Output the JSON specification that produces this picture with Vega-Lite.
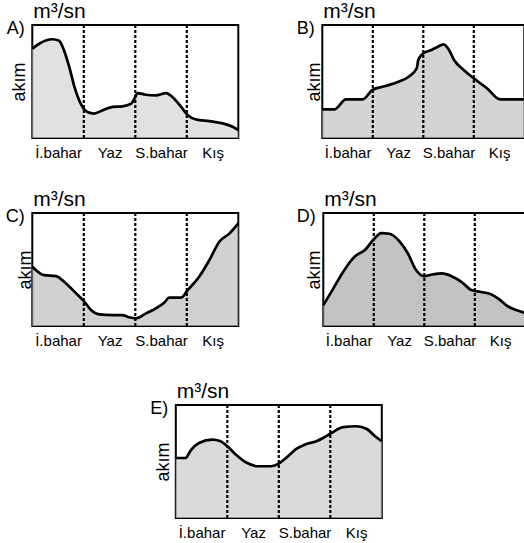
{
  "$schema": "https://vega.github.io/schema/vega-lite/v6.json",
  "background": "white",
  "padding": {"left": 4, "top": 0, "right": 0, "bottom": 2},
  "spacing": 31,
  "center": true,
  "datasets": {
    "curves": [
      {"panel": "A", "t": 0, "flow": 79}, {"panel": "A", "t": 0.14, "flow": 83.6}, {"panel": "A", "t": 0.39, "flow": 87.4}, {"panel": "A", "t": 0.52, "flow": 86}, {"panel": "A", "t": 0.62, "flow": 77}, {"panel": "A", "t": 0.72, "flow": 62.5}, {"panel": "A", "t": 0.82, "flow": 45}, {"panel": "A", "t": 0.94, "flow": 30.4}, {"panel": "A", "t": 1.07, "flow": 23}, {"panel": "A", "t": 1.2, "flow": 21.6}, {"panel": "A", "t": 1.37, "flow": 24.6}, {"panel": "A", "t": 1.56, "flow": 27.5}, {"panel": "A", "t": 1.75, "flow": 28}, {"panel": "A", "t": 1.92, "flow": 30.4}, {"panel": "A", "t": 2.0, "flow": 36.3}, {"panel": "A", "t": 2.04, "flow": 39.8}, {"panel": "A", "t": 2.2, "flow": 38.3}, {"panel": "A", "t": 2.4, "flow": 37.7}, {"panel": "A", "t": 2.6, "flow": 39.8}, {"panel": "A", "t": 2.72, "flow": 36.3}, {"panel": "A", "t": 2.89, "flow": 27.5}, {"panel": "A", "t": 3.02, "flow": 20.2}, {"panel": "A", "t": 3.18, "flow": 16.4}, {"panel": "A", "t": 3.44, "flow": 14.9}, {"panel": "A", "t": 3.7, "flow": 12.9}, {"panel": "A", "t": 3.89, "flow": 9.9}, {"panel": "A", "t": 4, "flow": 7},
      {"panel": "B", "t": 0, "flow": 25.4}, {"panel": "B", "t": 0.24, "flow": 25.4}, {"panel": "B", "t": 0.47, "flow": 34.2}, {"panel": "B", "t": 0.8, "flow": 34.2}, {"panel": "B", "t": 0.99, "flow": 42.5}, {"panel": "B", "t": 1.25, "flow": 46}, {"panel": "B", "t": 1.51, "flow": 49.8}, {"panel": "B", "t": 1.71, "flow": 54.2}, {"panel": "B", "t": 1.87, "flow": 61.7}, {"panel": "B", "t": 1.9, "flow": 69}, {"panel": "B", "t": 2.0, "flow": 75}, {"panel": "B", "t": 2.16, "flow": 77.9}, {"panel": "B", "t": 2.29, "flow": 80.8}, {"panel": "B", "t": 2.4, "flow": 82.9}, {"panel": "B", "t": 2.51, "flow": 77.9}, {"panel": "B", "t": 2.61, "flow": 69}, {"panel": "B", "t": 2.8, "flow": 60.2}, {"panel": "B", "t": 3.0, "flow": 52.8}, {"panel": "B", "t": 3.26, "flow": 44}, {"panel": "B", "t": 3.52, "flow": 34.2}, {"panel": "B", "t": 3.94, "flow": 34.2}, {"panel": "B", "t": 4, "flow": 34.2},
      {"panel": "C", "t": 0, "flow": 52.5}, {"panel": "C", "t": 0.23, "flow": 45}, {"panel": "C", "t": 0.46, "flow": 44.2}, {"panel": "C", "t": 0.65, "flow": 37.8}, {"panel": "C", "t": 0.85, "flow": 28.9}, {"panel": "C", "t": 1.01, "flow": 21.5}, {"panel": "C", "t": 1.14, "flow": 14.2}, {"panel": "C", "t": 1.3, "flow": 10.3}, {"panel": "C", "t": 1.56, "flow": 9.7}, {"panel": "C", "t": 1.75, "flow": 9.7}, {"panel": "C", "t": 1.88, "flow": 7.7}, {"panel": "C", "t": 2.01, "flow": 6.8}, {"panel": "C", "t": 2.21, "flow": 11.2}, {"panel": "C", "t": 2.4, "flow": 15.6}, {"panel": "C", "t": 2.56, "flow": 20.6}, {"panel": "C", "t": 2.66, "flow": 25.1}, {"panel": "C", "t": 2.89, "flow": 25.1}, {"panel": "C", "t": 3.02, "flow": 31.9}, {"panel": "C", "t": 3.24, "flow": 43.6}, {"panel": "C", "t": 3.44, "flow": 58.4}, {"panel": "C", "t": 3.63, "flow": 74.6}, {"panel": "C", "t": 3.83, "flow": 82}, {"panel": "C", "t": 4, "flow": 90.9},
      {"panel": "D", "t": 0, "flow": 18.4}, {"panel": "D", "t": 0.15, "flow": 29.5}, {"panel": "D", "t": 0.34, "flow": 44.1}, {"panel": "D", "t": 0.54, "flow": 57.3}, {"panel": "D", "t": 0.63, "flow": 61.7}, {"panel": "D", "t": 0.83, "flow": 67.5}, {"panel": "D", "t": 0.99, "flow": 76.3}, {"panel": "D", "t": 1.15, "flow": 82.2}, {"panel": "D", "t": 1.31, "flow": 81.6}, {"panel": "D", "t": 1.51, "flow": 74.8}, {"panel": "D", "t": 1.67, "flow": 64.6}, {"panel": "D", "t": 1.83, "flow": 50}, {"panel": "D", "t": 1.99, "flow": 44.1}, {"panel": "D", "t": 2.16, "flow": 45.6}, {"panel": "D", "t": 2.35, "flow": 46.5}, {"panel": "D", "t": 2.54, "flow": 44.1}, {"panel": "D", "t": 2.74, "flow": 38.9}, {"panel": "D", "t": 2.93, "flow": 31.8}, {"panel": "D", "t": 3.12, "flow": 30.1}, {"panel": "D", "t": 3.32, "flow": 28.1}, {"panel": "D", "t": 3.48, "flow": 23.7}, {"panel": "D", "t": 3.64, "flow": 17.8}, {"panel": "D", "t": 3.83, "flow": 14}, {"panel": "D", "t": 3.93, "flow": 12.5}, {"panel": "D", "t": 4, "flow": 11.5},
      {"panel": "E", "t": 0, "flow": 53.1}, {"panel": "E", "t": 0.19, "flow": 53.1}, {"panel": "E", "t": 0.29, "flow": 59.9}, {"panel": "E", "t": 0.45, "flow": 66.4}, {"panel": "E", "t": 0.71, "flow": 69.3}, {"panel": "E", "t": 0.87, "flow": 67.9}, {"panel": "E", "t": 1.0, "flow": 63.5}, {"panel": "E", "t": 1.17, "flow": 56}, {"panel": "E", "t": 1.36, "flow": 49.3}, {"panel": "E", "t": 1.59, "flow": 45.8}, {"panel": "E", "t": 1.85, "flow": 45.8}, {"panel": "E", "t": 2.0, "flow": 48.1}, {"panel": "E", "t": 2.14, "flow": 53.1}, {"panel": "E", "t": 2.34, "flow": 61.1}, {"panel": "E", "t": 2.5, "flow": 64.9}, {"panel": "E", "t": 2.73, "flow": 67.9}, {"panel": "E", "t": 2.86, "flow": 70.8}, {"panel": "E", "t": 3.02, "flow": 75.2}, {"panel": "E", "t": 3.25, "flow": 80.5}, {"panel": "E", "t": 3.51, "flow": 81.2}, {"panel": "E", "t": 3.71, "flow": 78.8}, {"panel": "E", "t": 3.87, "flow": 72.3}, {"panel": "E", "t": 4.0, "flow": 67.9}
    ],
    "dividers": [{"t": 1}, {"t": 2}, {"t": 3}]
  },
  "vconcat": [
    {
      "spacing": 27,
      "vconcat": [
        {
          "hconcat": [
            {
              "width": 206, "height": 113, "title": "m³/sn",
              "encoding": {
                "x": {"field": "t", "type": "quantitative", "scale": {"domain": [0, 4], "nice": false}, "axis": {"title": "A)", "values": [0.5, 1.5, 2.5, 3.5]}}
              },
              "layer": [
                {"data": {"name": "curves"}, "transform": [{"filter": "datum.panel == 'A'"}],
                 "mark": {"type": "area", "interpolate": "monotone", "fill": "#d4d4d4", "line": {"color": "black", "strokeWidth": 2.7}},
                 "encoding": {"y": {"field": "flow", "type": "quantitative", "scale": {"domain": [0, 100], "nice": false}, "axis": {"title": "akım", "titlePadding": 8}}}},
                {"data": {"name": "dividers"}, "mark": {"type": "rule", "strokeDash": [3, 2], "strokeWidth": 2.2, "color": "black"}, "encoding": {}}
              ]
            },
            {
              "width": 202, "height": 113, "title": "m³/sn",
              "encoding": {
                "x": {"field": "t", "type": "quantitative", "scale": {"domain": [0, 4], "nice": false}, "axis": {"title": "B)", "values": [0.5, 1.5, 2.5, 3.5]}}
              },
              "layer": [
                {"data": {"name": "curves"}, "transform": [{"filter": "datum.panel == 'B'"}],
                 "mark": {"type": "area", "interpolate": "monotone", "fill": "#c2c2c2", "line": {"color": "black", "strokeWidth": 2.7}},
                 "encoding": {"y": {"field": "flow", "type": "quantitative", "scale": {"domain": [0, 100], "nice": false}, "axis": {"title": "akım", "titlePadding": 3}}}},
                {"data": {"name": "dividers"}, "mark": {"type": "rule", "strokeDash": [3, 2], "strokeWidth": 2.2, "color": "black"}, "encoding": {}}
              ]
            }
          ],
          "spacing": 50
        },
        {
          "hconcat": [
            {
              "width": 206, "height": 113, "title": "m³/sn",
              "encoding": {
                "x": {"field": "t", "type": "quantitative", "scale": {"domain": [0, 4], "nice": false}, "axis": {"title": "C)", "values": [0.5, 1.5, 2.5, 3.5]}}
              },
              "layer": [
                {"data": {"name": "curves"}, "transform": [{"filter": "datum.panel == 'C'"}],
                 "mark": {"type": "area", "interpolate": "monotone", "fill": "#bdbdbd", "line": {"color": "black", "strokeWidth": 2.7}},
                 "encoding": {"y": {"field": "flow", "type": "quantitative", "scale": {"domain": [0, 100], "nice": false}, "axis": {"title": "akım", "titlePadding": 2}}}},
                {"data": {"name": "dividers"}, "mark": {"type": "rule", "strokeDash": [3, 2], "strokeWidth": 2.2, "color": "black"}, "encoding": {}}
              ]
            },
            {
              "width": 202, "height": 113, "title": "m³/sn",
              "encoding": {
                "x": {"field": "t", "type": "quantitative", "scale": {"domain": [0, 4], "nice": false}, "axis": {"title": "D)", "values": [0.5, 1.5, 2.5, 3.5]}}
              },
              "layer": [
                {"data": {"name": "curves"}, "transform": [{"filter": "datum.panel == 'D'"}],
                 "mark": {"type": "area", "interpolate": "monotone", "fill": "#a9a9a9", "line": {"color": "black", "strokeWidth": 2.7}},
                 "encoding": {"y": {"field": "flow", "type": "quantitative", "scale": {"domain": [0, 100], "nice": false}, "axis": {"title": "akım", "titlePadding": 4}}}},
                {"data": {"name": "dividers"}, "mark": {"type": "rule", "strokeDash": [3, 2], "strokeWidth": 2.2, "color": "black"}, "encoding": {}}
              ]
            }
          ],
          "spacing": 50
        }
      ]
    },
    {
      "width": 206, "height": 113, "title": "m³/sn",
      "encoding": {
        "x": {"field": "t", "type": "quantitative", "scale": {"domain": [0, 4], "nice": false}, "axis": {"title": "E)", "values": [0.5, 1.5, 2.5, 3.5]}}
      },
      "layer": [
        {"data": {"name": "curves"}, "transform": [{"filter": "datum.panel == 'E'"}],
         "mark": {"type": "area", "interpolate": "monotone", "fill": "#cbcbcb", "line": {"color": "black", "strokeWidth": 2.7}},
         "encoding": {"y": {"field": "flow", "type": "quantitative", "scale": {"domain": [0, 100], "nice": false}, "axis": {"title": "akım", "titlePadding": 7}}}},
        {"data": {"name": "dividers"}, "mark": {"type": "rule", "strokeDash": [3, 2], "strokeWidth": 2.2, "color": "black"}, "encoding": {}}
      ]
    }
  ],
  "config": {
    "font": "Liberation Sans",
    "view": {"stroke": "black", "strokeWidth": 2},
    "axis": {"grid": false, "ticks": false, "tickSize": 0, "domain": false, "labelColor": "black", "titleColor": "black", "titleFontWeight": "normal", "titleFont": "Liberation Sans", "labelFont": "Liberation Sans"},
    "axisX": {"labelExpr": "['İ.bahar', 'Yaz', 'S.bahar', 'Kış'][floor(datum.value)]", "labelFontSize": 15, "labelBaseline": "alphabetic", "labelPadding": 19, "labelFlush": false, "labelOverlap": false, "titleX": -8, "titleY": -105, "titleAlign": "right", "titleBaseline": "alphabetic", "titleFontSize": 18},
    "axisY": {"labels": false, "titleFontSize": 18, "titleBaseline": "alphabetic"},
    "title": {"anchor": "start", "frame": "group", "offset": -3, "baseline": "alphabetic", "fontSize": 21, "fontWeight": "normal", "font": "Liberation Sans", "color": "black", "dx": 1}
  }
}
